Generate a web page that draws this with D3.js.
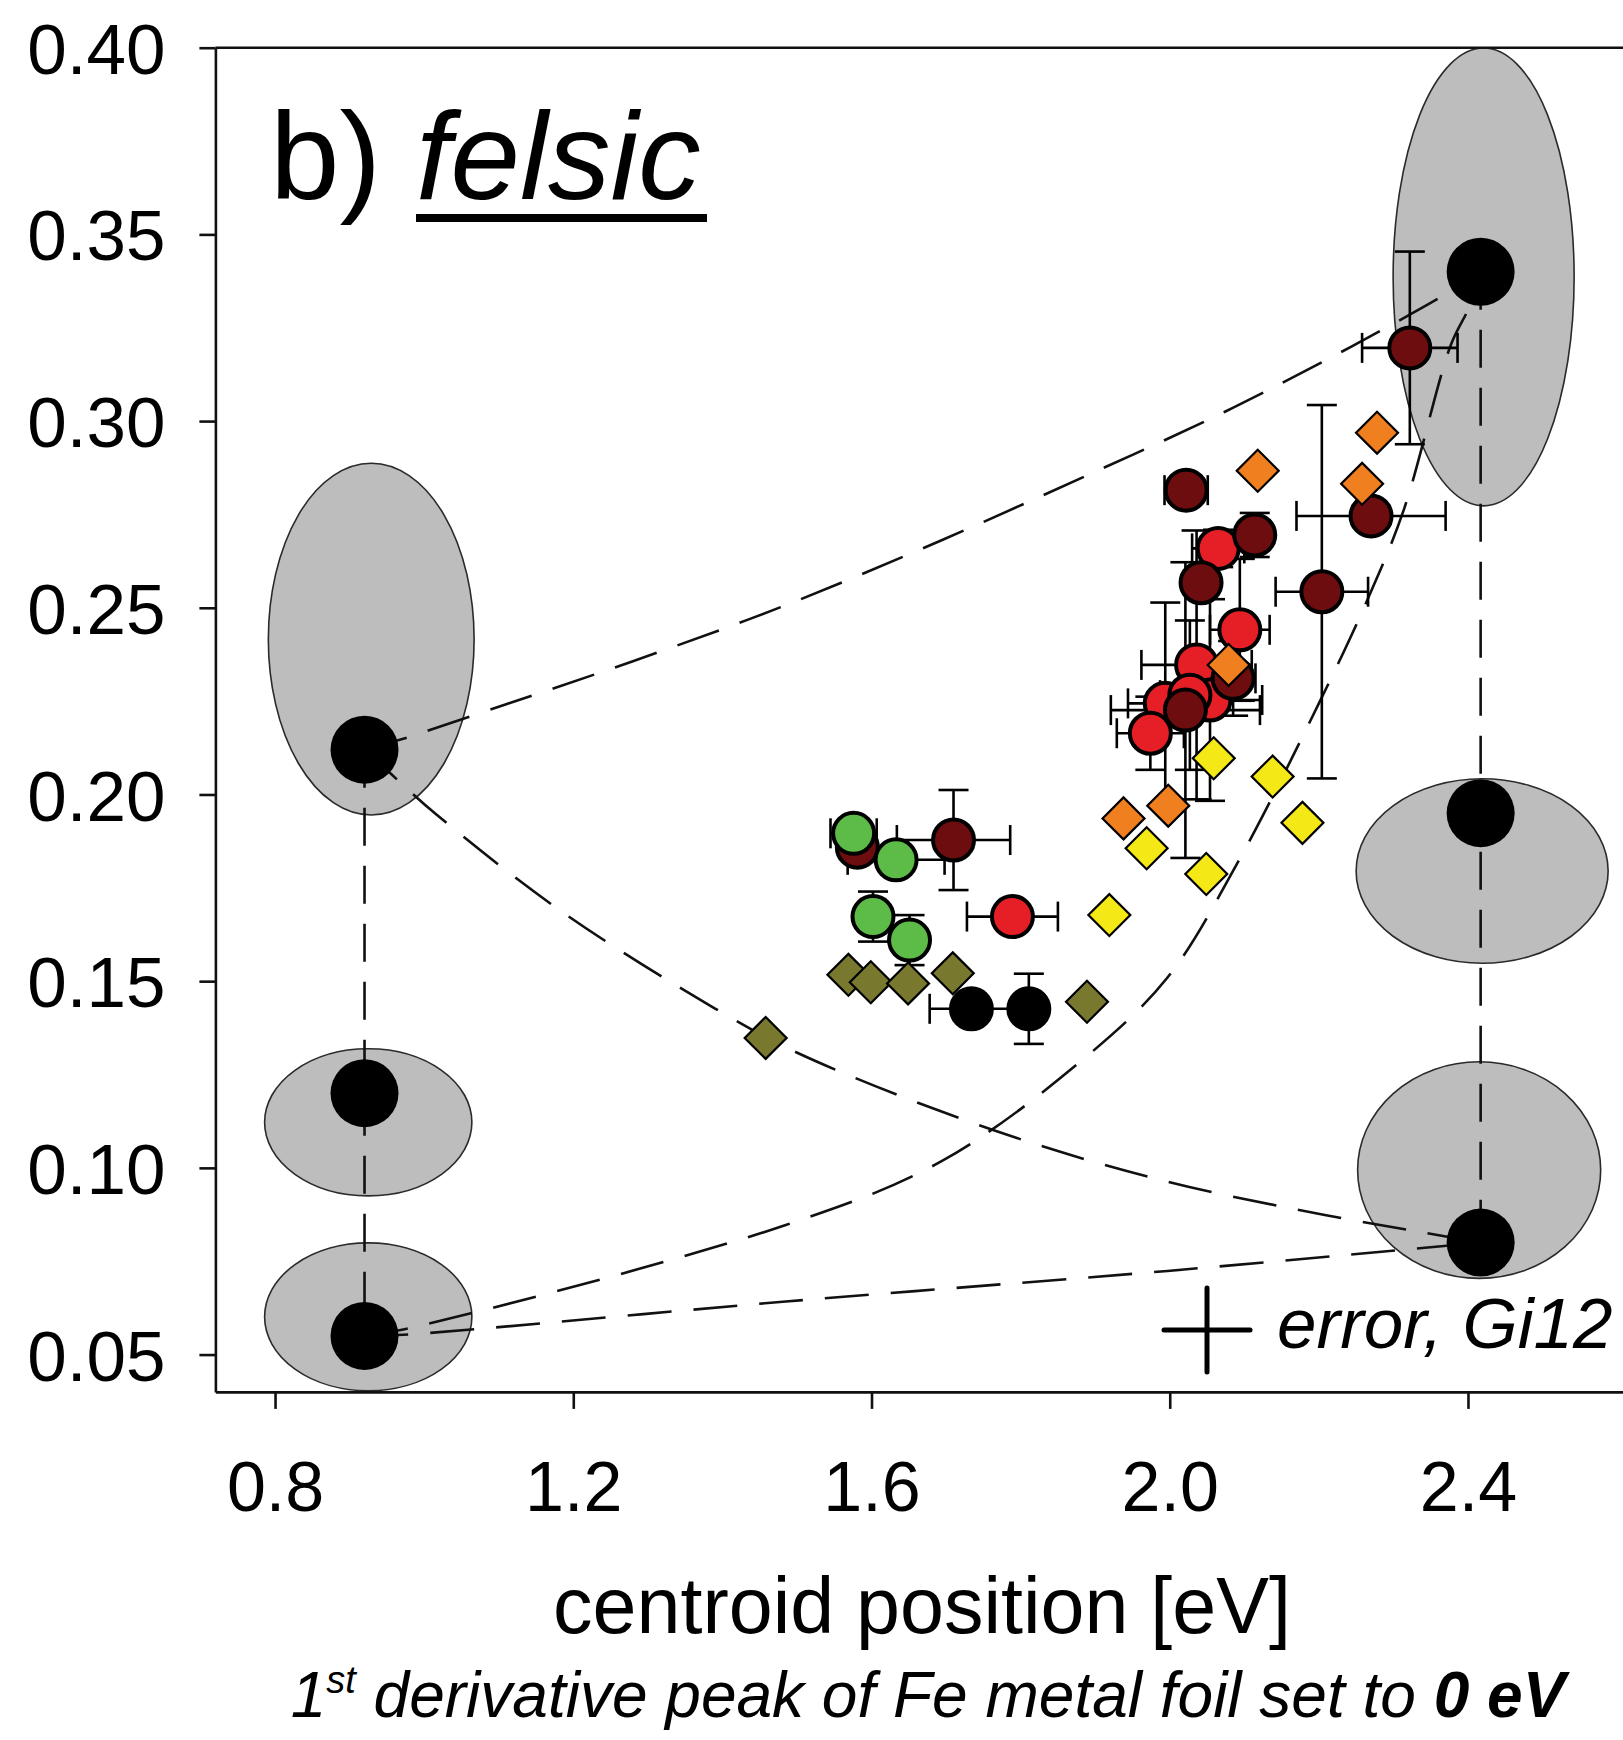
<!DOCTYPE html>
<html>
<head>
<meta charset="utf-8">
<script src="https://cdn.jsdelivr.net/npm/d3@7"></script>
<style>
  html, body { margin: 0; padding: 0; background: #fff; }
  svg { display: block; }
  text { font-family: "Liberation Sans", Arial, Helvetica, sans-serif; fill: #000; white-space: pre; }
</style>
</head>
<body>
<svg id="chart" width="1623" height="1740"></svg>
<script>
// ---------------- DATA ----------------
const xTicks = [0.8, 1.2, 1.6, 2.0, 2.4];
const yTicks = [0.05, 0.10, 0.15, 0.20, 0.25, 0.30, 0.35, 0.40];

// reference end-members: [x, y]
const endMembers = [[0.92, 0.212], [0.92, 0.120], [0.92, 0.055], [2.417, 0.340], [2.417, 0.195], [2.417, 0.080]];
// uncertainty ellipses: [cx, cy, rx, ry] in data units
const ellipses = [
  [0.929, 0.2416, 0.138, 0.0471],
  [0.925, 0.1122, 0.139, 0.0197],
  [0.925, 0.0601, 0.139, 0.0198],
  [2.421, 0.3386, 0.1214, 0.0613],
  [2.419, 0.1795, 0.169, 0.0247],
  [2.415, 0.0994, 0.163, 0.0290]
];

// mixing curves
const mixA = [[0.92,0.212],[0.965,0.2145],[1.109,0.2241],[1.280,0.2357],[1.485,0.2507],[1.694,0.2681],[1.884,0.2850],[2.074,0.3025],[2.243,0.3199],[2.377,0.3348],[2.417,0.340]];
const mixB = [[0.92,0.212],[0.955,0.2056],[1.016,0.1947],[1.184,0.1687],[1.389,0.1428],[1.504,0.1305],[1.765,0.1100],[1.997,0.0963],[2.208,0.0874],[2.342,0.0826],[2.417,0.080]];
const mixC = [[0.92,0.055],[0.972,0.0567],[1.485,0.0847],[1.694,0.1018],[1.884,0.1291],[1.997,0.1510],[2.089,0.1810],[2.201,0.2248],[2.265,0.2521],[2.314,0.2763],[2.377,0.3204],[2.402,0.3307],[2.417,0.340]];
const mixD = [[0.92,0.055],[0.972,0.0553],[1.485,0.0642],[1.997,0.0724],[2.342,0.0786],[2.417,0.080]];
const leftColumn = [[0.92,0.212],[0.92,0.055]];
const rightColumn = [[2.417,0.340],[2.417,0.080]];

// samples with error bars: [x, y, xerr, yerr]
const redPts = [
  [1.789, 0.1673, 0.061, 0],
  [2.065, 0.2659, 0.035, 0.005],
  [2.094, 0.2441, 0.040, 0.019],
  [2.036, 0.2347, 0.074, 0.036],
  [2.054, 0.2253, 0.070, 0.027],
  [1.994, 0.2244, 0.050, 0.027],
  [2.027, 0.2266, 0.040, 0.020],
  [1.974, 0.2164, 0.045, 0.0098]
];
const darkRedPts = [
  [1.581, 0.1859, 0, 0],
  [1.710, 0.1878, 0.076, 0.0134],
  [2.322, 0.3196, 0.064, 0.0258],
  [2.022, 0.2815, 0.029, 0],
  [2.114, 0.2695, 0, 0.0059],
  [2.042, 0.2567, 0, 0],
  [2.204, 0.2543, 0.062, 0.050],
  [2.270, 0.2746, 0.100, 0],
  [2.085, 0.2311, 0.030, 0.010],
  [2.021, 0.2226, 0.100, 0.0396]
];
const greenPts = [
  [1.576, 0.1896, 0.031, 0],
  [1.633, 0.1825, 0.065, 0],
  [1.602, 0.1673, 0, 0.0067],
  [1.651, 0.1610, 0, 0.0067]
];
const blackPts = [
  [1.734, 0.1426, 0.056, 0],
  [1.811, 0.1426, 0, 0.0094]
];
// diamonds (no error bars): [x, y]
const olivePts = [[1.569,0.1517],[1.599,0.1497],[1.649,0.1494],[1.709,0.1521],[1.889,0.1445],[1.458,0.1348]];
const orangePts = [[2.118,0.2867],[2.278,0.2969],[2.258,0.2832],[2.079,0.2347],[1.938,0.1936],[1.998,0.1970]];
const yellowPts = [[2.059,0.2097],[2.138,0.2048],[1.969,0.1856],[2.049,0.1787],[1.919,0.1677],[2.178,0.1924]];

// ---------------- CHART ----------------
const svg = d3.select("#chart");

const x = d3.scaleLinear().domain([0.72, 2.62]).range([215.4, 1632.0]);
const y = d3.scaleLinear().domain([0.04, 0.40]).range([1391.9, 47.7]);

const C = {
  darkRed: "#6e0d0f", red: "#e61e26", green: "#5cbc47", black: "#000000",
  olive: "#78782e", orange: "#f0801f", yellow: "#f4e816", gray: "#bdbdbd"
};

// ellipses
svg.append("g").selectAll("ellipse").data(ellipses).join("ellipse")
  .attr("cx", d => x(d[0])).attr("cy", d => y(d[1]))
  .attr("rx", d => x(d[0] + d[2]) - x(d[0]))
  .attr("ry", d => y(d[1] - d[3]) - y(d[1]))
  .attr("fill", C.gray).attr("stroke", "#2a2a2a").attr("stroke-width", 1.6);

// dashed mixing lines
const line = d3.line().x(d => x(d[0])).y(d => y(d[1])).curve(d3.curveCatmullRom.alpha(0.5));
const gLines = svg.append("g").attr("fill", "none").attr("stroke", "#111").attr("stroke-width", 2.6)
  .attr("stroke-dasharray", "44,22");
[mixA, mixB, mixC, mixD].forEach(c => gLines.append("path").attr("d", line(c)));
[leftColumn, rightColumn].forEach(c => gLines.append("path").attr("d", d3.line().x(d => x(d[0])).y(d => y(d[1]))(c))
  .attr("stroke-dasharray", "38,20"));

// error bars
const cap = 15;
const gErr = svg.append("g").attr("stroke", "#000").attr("stroke-width", 2.6).attr("fill", "none");
const allErr = [].concat(redPts, darkRedPts, greenPts, blackPts);
allErr.forEach(d => {
  const cx = x(d[0]), cy = y(d[1]);
  if (d[2] > 0) {
    const x0 = x(d[0] - d[2]), x1 = x(d[0] + d[2]);
    gErr.append("line").attr("x1", x0).attr("x2", x1).attr("y1", cy).attr("y2", cy);
    gErr.append("line").attr("x1", x0).attr("x2", x0).attr("y1", cy - cap).attr("y2", cy + cap);
    gErr.append("line").attr("x1", x1).attr("x2", x1).attr("y1", cy - cap).attr("y2", cy + cap);
  }
  if (d[3] > 0) {
    const y0 = y(d[1] - d[3]), y1 = y(d[1] + d[3]);
    gErr.append("line").attr("x1", cx).attr("x2", cx).attr("y1", y0).attr("y2", y1);
    gErr.append("line").attr("x1", cx - cap).attr("x2", cx + cap).attr("y1", y0).attr("y2", y0);
    gErr.append("line").attr("x1", cx - cap).attr("x2", cx + cap).attr("y1", y1).attr("y2", y1);
  }
});

// circles
function circles(data, fill) {
  svg.append("g").selectAll("circle").data(data).join("circle")
    .attr("cx", d => x(d[0])).attr("cy", d => y(d[1])).attr("r", 20.5)
    .attr("fill", fill).attr("stroke", "#000").attr("stroke-width", 4);
}
circles(redPts, C.red);
circles(darkRedPts, C.darkRed);
circles(greenPts, C.green);
circles(blackPts, C.black);

// diamonds
const diamond = d3.symbol().type(d3.symbolSquare).size(880);
function diamonds(data, fill) {
  svg.append("g").selectAll("path").data(data).join("path")
    .attr("d", diamond)
    .attr("transform", d => `translate(${x(d[0])},${y(d[1])}) rotate(45)`)
    .attr("fill", fill).attr("stroke", "#000").attr("stroke-width", 2.2);
}
diamonds(olivePts, C.olive);
diamonds(orangePts, C.orange);
diamonds(yellowPts, C.yellow);

// end-member dots
svg.append("g").selectAll("circle").data(endMembers).join("circle")
  .attr("cx", d => x(d[0])).attr("cy", d => y(d[1])).attr("r", 34)
  .attr("fill", "#000");

// axes
const xAxis = d3.axisBottom(x).tickValues(xTicks).tickFormat(d3.format(".1f"))
  .tickSize(17).tickSizeOuter(0).tickPadding(52);
const gx = svg.append("g").attr("transform", `translate(0,${y(0.04)})`).call(xAxis);
gx.selectAll("text").attr("font-size", 70).attr("dy", "0.71em")
  .style("font-family", '"Liberation Sans", Arial, sans-serif');

const yAxis = d3.axisLeft(y).tickValues(yTicks).tickFormat(d3.format(".2f"))
  .tickSize(16).tickSizeOuter(0).tickPadding(34);
const gy = svg.append("g").attr("transform", `translate(${x(0.72)},0)`).call(yAxis);
gy.selectAll("text").attr("font-size", 71).attr("dy", "0.36em")
  .style("font-family", '"Liberation Sans", Arial, sans-serif');

[gx, gy].forEach(g => {
  g.selectAll("path, line").attr("stroke", "#111").attr("stroke-width", 2.6);
});
// top frame line
svg.append("line").attr("x1", x(0.72)).attr("x2", x(2.62)).attr("y1", y(0.40)).attr("y2", y(0.40))
  .attr("stroke", "#111").attr("stroke-width", 2.6);

// panel title
const title = svg.append("text").attr("x", 270).attr("y", 199).attr("font-size", 125);
title.append("tspan").text("b) ");
title.append("tspan").attr("font-style", "italic").text("felsic");
svg.append("rect").attr("x", 416).attr("y", 214).attr("width", 291).attr("height", 8).attr("fill", "#000");

// error legend
svg.append("line").attr("x1", 1164).attr("x2", 1250).attr("y1", 1330).attr("y2", 1330)
  .attr("stroke", "#000").attr("stroke-width", 5).attr("stroke-linecap", "round");
svg.append("line").attr("x1", 1207).attr("x2", 1207).attr("y1", 1288).attr("y2", 1372)
  .attr("stroke", "#000").attr("stroke-width", 5).attr("stroke-linecap", "round");
svg.append("text").attr("x", 1277).attr("y", 1348).attr("font-size", 71).attr("font-style", "italic")
  .text("error, Gi12");

// axis titles
svg.append("text").attr("x", 922).attr("y", 1633).attr("text-anchor", "middle").attr("font-size", 79)
  .text("centroid position [eV]");
const sub = svg.append("text").attr("x", 928).attr("y", 1717).attr("text-anchor", "middle")
  .attr("font-size", 64).attr("font-style", "italic");
sub.append("tspan").text("1");
sub.append("tspan").attr("font-size", 38).attr("dy", -24).text("st");
sub.append("tspan").attr("dy", 24).text(" derivative peak of Fe metal foil set to ");
sub.append("tspan").attr("font-weight", "bold").text("0 eV");
</script>
</body>
</html>
